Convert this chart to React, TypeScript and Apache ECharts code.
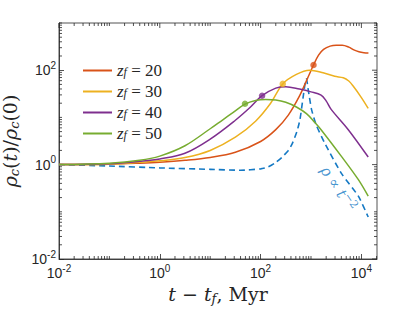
import React, { useEffect, useRef } from 'react';
import * as echarts from 'echarts';

// ---- data (t in Myr, rho_c(t)/rho_c(0)) ----
const legendNames = ['z_f = 20', 'z_f = 30', 'z_f = 40', 'z_f = 50'];
const lineColors = ['#D95319', '#EDB120', '#7E2F8E', '#77AC30'];
const dashColor = '#1479C4';

const tZ20 = [0.01, 0.1, 0.398, 1, 3.16, 10, 31.6, 100, 200, 355, 589, 832, 1122, 1413, 1778, 2399, 3162, 4169, 5623, 7079, 8913, 11220, 13800];
const rhoZ20 = [1, 1.023, 1.072, 1.122, 1.23, 1.413, 1.82, 3.09, 5.5, 11.2, 28.2, 63.1, 128.8, 208.9, 275.4, 323.6, 338.8, 338.8, 309, 269.2, 245.5, 234.4, 231.7];

const tZ30 = [0.01, 0.1, 0.398, 1, 3.16, 10, 31.6, 79.4, 158, 275, 513, 933, 1738, 2951, 4365, 5623, 6918, 10000, 13650];
const rhoZ30 = [1, 1.023, 1.122, 1.202, 1.413, 1.995, 3.802, 8.318, 19.95, 51.3, 81.3, 100, 88.1, 74.1, 69.2, 58.9, 45.7, 26.3, 15.5];

const tZ40 = [0.01, 0.1, 0.398, 1, 3.16, 10, 31.6, 63.1, 107, 200, 316, 589, 1000, 1585, 1995, 2512, 5495, 13650];
const rhoZ40 = [1, 1.047, 1.175, 1.318, 1.74, 3.47, 8.71, 16.6, 28.8, 41.7, 44.7, 39.8, 34.7, 29.5, 22.4, 14.8, 5.495, 1.445];

const tZ50 = [0.01, 0.1, 0.398, 1, 3.16, 10, 17.8, 28.2, 49, 79.4, 126, 200, 316, 513, 813, 1175, 1585, 3981, 8710, 13650];
const rhoZ50 = [1, 1.072, 1.23, 1.514, 2.51, 5.75, 8.91, 12.6, 19.1, 22.9, 24.0, 23.4, 20.9, 16.6, 12.0, 7.943, 5.495, 1.514, 0.479, 0.214];

const tIso = [0.01, 0.1, 1, 10, 39.8, 100, 141, 191, 263, 355, 427, 525, 603, 692, 759, 813, 871, 933, 1023, 1259, 1862, 3981, 8710, 13650];
const rhoIso = [1, 0.933, 0.851, 0.794, 0.759, 0.813, 0.891, 1.072, 1.413, 1.995, 2.818, 5.012, 8.913, 25.1, 50.1, 66.1, 41.7, 26.3, 14.8, 7.08, 2.884, 0.661, 0.214, 0.0776];

const markerT = [1122, 275, 107, 49];
const markerRho = [128.8, 51.3, 28.8, 19.5];

const xTickExponents = [-2, 0, 2, 4];
const yTickExponents = [-2, 0, 2];
const xRangeT = [0.01, 20400];
const yRangeRho = [0.01, 1000];
const slopeNote = [3470, 0.31];

const lg = (v: number) => Math.log10(v);
const AX = '#262626';
const SERIF = '"Liberation Serif", "DejaVu Serif", serif';
const DSERIF = '"DejaVu Serif", "Liberation Serif", serif';
const SANS = '"Liberation Sans", Arial, sans-serif';

const curves = [
  [tZ20, rhoZ20],
  [tZ30, rhoZ30],
  [tZ40, rhoZ40],
  [tZ50, rhoZ50],
];

export default function App() {
  const ref = useRef<HTMLDivElement>(null);
  useEffect(() => {
    if (!ref.current) return;
    const chart = echarts.init(ref.current, null, { renderer: 'svg' });
    const XMIN = lg(xRangeT[0]);
    const XMAX = lg(xRangeT[1]);
    const YMIN = lg(yRangeRho[0]);
    const YMAX = lg(yRangeRho[1]);

    const tickData: number[][] = [];
    const isMajorX = (v: number) => xTickExponents.some((e) => Math.abs(e - v) < 1e-9);
    const isMajorY = (v: number) => yTickExponents.some((e) => Math.abs(e - v) < 1e-9);
    for (let d = Math.floor(XMIN); d <= Math.ceil(XMAX); d++) {
      for (let m = 1; m <= 9; m++) {
        const v = d + Math.log10(m);
        if (v < XMIN - 1e-9 || v > XMAX + 1e-9) continue;
        const len = isMajorX(v) ? 5 : 3;
        if (!isMajorX(v)) tickData.push([v, YMIN, 0, len]);
        tickData.push([v, YMAX, 1, len]);
      }
    }
    for (let d = Math.floor(YMIN); d <= Math.ceil(YMAX); d++) {
      for (let m = 1; m <= 9; m++) {
        const v = d + Math.log10(m);
        if (v < YMIN - 1e-9 || v > YMAX + 1e-9) continue;
        const len = isMajorY(v) ? 5 : 3;
        if (!isMajorY(v)) tickData.push([XMIN, v, 2, len]);
        tickData.push([XMAX, v, 3, len]);
      }
    }

    const supLabel = (v: number) => {
      if (Math.abs(v - Math.round(v)) > 1e-6) return '';
      return `{b|10}{s|${Math.round(v)}}`;
    };
    const labelRich = {
      b: { fontFamily: SANS, fontSize: 14, color: AX, lineHeight: 20 },
      s: { fontFamily: SANS, fontSize: 10, color: AX, lineHeight: 10, verticalAlign: 'top' },
    };
    const mathRich = (family: string, size: number, color: string, lh: number) => ({
      i: { fontFamily: family, fontStyle: 'italic', fontSize: size, color, lineHeight: lh },
      n: { fontFamily: family, fontSize: size, color, lineHeight: lh },
      s: { fontFamily: family, fontStyle: 'italic', fontSize: Math.round(size * 0.68), color, lineHeight: Math.round(size * 0.68), verticalAlign: 'bottom' },
      p: { fontFamily: family, fontSize: Math.round(size * 0.7), color, lineHeight: Math.round(size * 0.7), verticalAlign: 'top' },
    });

    const series: any[] = [];
    series.push({
      type: 'line',
      name: 'iso',
      data: tIso.map((t, i) => [lg(t), lg(rhoIso[i])]),
      symbol: 'none',
      smooth: 0.2,
      lineStyle: { color: dashColor, width: 1.6, type: [6, 4] },
      z: 2,
    });
    curves.forEach(([ts, rs], k) => {
      series.push({
        type: 'line',
        name: legendNames[k],
        data: ts.map((t, i) => [lg(t), lg(rs[i])]),
        symbol: 'none',
        smooth: 0.35,
        color: lineColors[k],
        lineStyle: { color: lineColors[k], width: 1.5 },
        z: 3,
      });
    });
    series.push({
      type: 'scatter',
      name: 'markers',
      data: markerT.map((t, i) => ({
        value: [lg(t), lg(markerRho[i])],
        itemStyle: { color: lineColors[i] },
      })),
      symbolSize: 6.5,
      z: 4,
    });
    series.push({
      type: 'scatter',
      name: 'note',
      data: [[lg(slopeNote[0]), lg(slopeNote[1])]],
      symbolSize: 0,
      silent: true,
      label: {
        show: true,
        position: 'inside',
        rotate: -56,
        formatter: '{i|ρ}{n| ∝ }{i|t}{p|−2}',
        rich: mathRich(DSERIF, 15, dashColor, 19),
      },
      z: 5,
    });
    series.push({
      type: 'custom',
      name: 'ticks',
      silent: true,
      clip: false,
      data: tickData,
      encode: { x: 0, y: 1 },
      renderItem: (params: any, api: any) => {
        const p = api.coord([api.value(0), api.value(1)]);
        const k = api.value(2);
        const len = api.value(3);
        let x2 = p[0];
        let y2 = p[1];
        if (k === 0) y2 -= len;
        else if (k === 1) y2 += len;
        else if (k === 2) x2 += len;
        else x2 -= len;
        return {
          type: 'line',
          shape: { x1: p[0], y1: p[1], x2, y2 },
          style: { stroke: AX, lineWidth: 0.8 },
        };
      },
      z: 6,
    });

    chart.setOption({
      animation: false,
      backgroundColor: '#ffffff',
      grid: {
        left: 59,
        right: 38,
        top: 23,
        bottom: 53,
        show: true,
        borderColor: AX,
        borderWidth: 0.8,
        backgroundColor: 'transparent',
        containLabel: false,
        outerBoundsMode: 'none',
      },
      legend: {
        data: legendNames,
        orient: 'vertical',
        left: 82,
        top: 62,
        itemWidth: 29,
        itemHeight: 14,
        itemGap: 4,
        padding: 0,
        itemStyle: { opacity: 0 },
        formatter: (name: string) => `{i|z}{s|f}{n| = ${name.split('= ')[1]}}`,
        textStyle: { rich: mathRich(SERIF, 17, AX, 14) },
      },
      xAxis: {
        type: 'value',
        min: XMIN,
        max: XMAX,
        interval: 2,
        splitLine: { show: false },
        axisLine: { show: true, onZero: false, lineStyle: { color: AX, width: 0.8 } },
        axisTick: { show: true, inside: true, length: 5, lineStyle: { color: AX, width: 0.8 } },
        axisLabel: { formatter: supLabel, rich: labelRich, margin: 4, showMaxLabel: false },
        name: '{i|t}{n| − }{i|t}{s|f}{n|, Myr}',
        nameLocation: 'middle',
        nameGap: 23,
        nameTextStyle: { rich: mathRich(DSERIF, 19, AX, 22) },
      },
      yAxis: {
        type: 'value',
        min: YMIN,
        max: YMAX,
        interval: 2,
        splitLine: { show: false },
        axisLine: { show: true, onZero: false, lineStyle: { color: AX, width: 0.8 } },
        axisTick: { show: true, inside: true, length: 5, lineStyle: { color: AX, width: 0.8 } },
        axisLabel: { formatter: supLabel, rich: labelRich, margin: 3, showMaxLabel: false },
        name: '{i|ρ}{s|c}{n|(}{i|t}{n|)/}{i|ρ}{s|c}{n|(0)}',
        nameLocation: 'middle',
        nameGap: 29,
        nameTextStyle: { rich: mathRich(DSERIF, 19, AX, 22) },
      },
      series,
    });
    return () => chart.dispose();
  }, []);
  return (
    <div
      ref={ref}
      style={{ position: 'absolute', left: 0, top: 0, width: 415, height: 312 }}
    />
  );
}
